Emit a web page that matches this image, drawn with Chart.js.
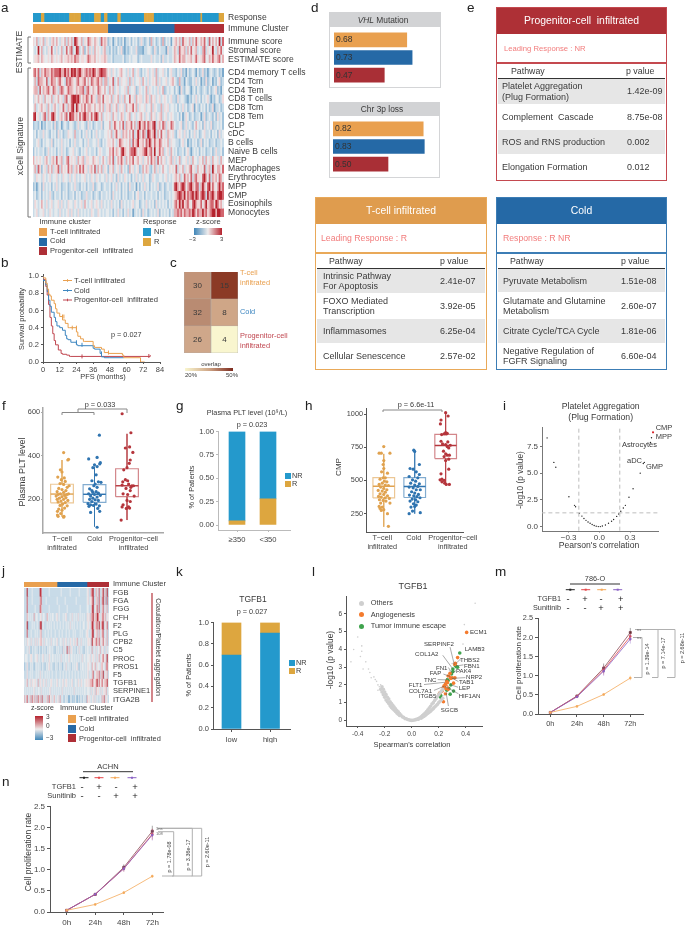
<!DOCTYPE html>
<html><head><meta charset="utf-8">
<script src="https://cdn.jsdelivr.net/npm/chart.js@4"></script>
<style>
html,body{margin:0;padding:0;background:#fff;overflow:hidden}
#p{position:absolute;left:0;top:0;width:685px;height:928px;overflow:hidden;font-family:"Liberation Sans",Arial,sans-serif}
canvas{position:absolute}
.t{position:absolute;white-space:pre;line-height:1.15;color:#3a3a3a;z-index:5}
.r{position:absolute;z-index:1}
svg{position:absolute;left:0;top:0;z-index:4}
</style></head><body><div id="p"><svg id="s" width="685" height="928"></svg></div>
<script>
/* ---------- DATA ---------- */
const cT='#E9A04F',cC='#2569A6',cP='#AE2F36',cNR='#2499CC',cR='#DDA63F';
const heatRamp=['#4f8fbe','#7aa9cc','#a3c4dc','#c8dbe8','#e6eaed','#f0d9da','#e6aeb2','#d2656e','#b5222d'];
const rowsResponse=["NNNNN RRNNN NNNNN NNNNN NNRRR RRRRN NNNNN NNRRR RNNRR NNNNN NRRNN NNNNN NNNNN NNRRR RRRNN NNNNN NNNNN NNNNN NNNNN NNNNN NRNNN NNNNN NNRRR"];
const estimateLabels=["Immune score","Stromal score","ESTIMATE score"];
const rowsEstimate=[
"54635 46354 35646 43546 36463 87546 35476 54654 37565 23413 42324 13342 43423 53234 26342 34262 43414 56463 75546 36475 46574 37464 64837",
"43484 63435 47435 34634 74673 48734 62463 53645 43563 32423 24352 13234 33522 21334 43253 24333 15334 65375 56364 74563 43673 54584 36574",
"45564 65445 46545 45645 56565 76645 54576 55645 45565 33423 33334 23343 44423 43333 35343 34253 34334 65475 66455 64575 45674 46575 56746"];
const xcellLabels=["CD4 memory T cells","CD4 Tcm","CD4 Tem","CD8 T cells","CD8 Tcm","CD8 Tem","CLP","cDC","B cells","Naive B cells","MEP","Macrophages","Erythrocytes","MPP","CMP","Eosinophils","Monocytes"];
const rowsXcell=[
"67573 65766 57677 78668 67587 86786 56767 68756 78776 45354 34564 43534 63453 24345 34536 34453 42453 32435 23142 34314 23523 13432 34231",
"46376 65473 57664 67543 76765 46755 67464 76567 56366 35473 46354 45363 53445 36435 34546 35344 53456 43263 31432 24353 41325 23413 24523",
"56637 46567 54765 36764 57665 46566 73675 46547 65464 36463 45344 53634 45235 43463 54343 53462 34344 24315 32443 13424 32343 24234 52314",
"35464 53645 46354 64536 74578 87864 65764 75536 64745 54635 46353 64474 53645 53465 36453 45345 43453 32534 43213 24353 42434 53132 44235",
"46345 64536 43564 35475 36578 48646 57466 54645 64635 56354 63545 36455 74635 44534 46354 33635 45344 34243 53423 45143 24342 42351 33423",
"78453 46736 47864 35646 74877 56475 78664 75786 46345 45364 53465 34563 45345 64354 36453 45634 53454 33424 13542 34233 41352 34324 25342",
"23324 13243 34252 34134 32443 23534 43253 42343 35244 46357 54647 36557 46368 56747 65783 56476 35476 43345 23534 32464 34253 43523 34342",
"34243 35343 24342 53423 35443 63342 43534 24353 43344 54635 74536 56464 73586 47638 75683 64745 36545 32454 35342 43534 23453 34243 42534",
"33453 24344 35243 43534 34243 53344 24353 34435 32434 55464 35765 45463 75685 56476 86475 57645 46354 43324 53413 24342 35243 42334 23343",
"24343 34235 34342 43534 23445 34324 34534 33424 54334 46574 65478 65467 78645 56785 67484 57563 45364 34233 42453 13434 24342 33423 53342",
"64545 43564 35647 45634 67454 53645 63554 46545 34643 56473 46575 36465 74564 53546 47563 74645 34563 53463 44535 36443 54636 45364 45364",
"46375 24536 46355 73645 47563 56475 74535 64736 46354 25463 45364 34264 53452 36465 32463 53464 43545 47354 63546 74536 45473 56385 46647",
"43544 35434 53445 34354 43534 53434 45343 54354 34435 34534 25343 54342 43534 35344 23543 34434 53434 56463 47564 73675 54786 47365 64764",
"23134 25343 42435 34233 42343 53324 34243 35234 42343 34243 53424 34253 34142 43534 24343 52342 34334 78657 87467 86577 36864 78575 46867",
"34234 24343 53243 34243 42334 24342 33533 42343 24334 34253 43424 34233 42453 34243 34334 24342 33434 56787 68576 78687 57873 86786 57887",
"35434 64353 45344 53534 35443 54345 36434 53454 35343 43534 34253 43434 53442 34353 43425 34343 42434 67586 85675 47865 57468 56775 87564",
"34534 45343 54344 35343 45353 43534 34343 54335 43434 43424 35342 43534 13434 25342 34343 52434 34243 66767 57667 68757 66867 56788 68877"];
const clusterCountsA=[45,40,30], clusterCountsJ=[33,30,22];
const geneLabels=["FGB","FGA","FGG","CFH","F2","PLG","CPB2","C5","PROC","PROS1","F5","TGFB1","SERPINE1","ITGA2B"];
const rowsGenes=[
"33383 33343 33333 38733 33333 43333 33333 33433 33333 34333 33333 43333 33345 33678 33653 73358 36383",
"33373 33343 33333 36733 33433 33333 33343 33333 34333 33333 33433 33333 33345 34568 33563 73368 36273",
"33373 33333 34333 37633 33333 43333 33333 43333 33343 33333 33333 34333 33344 33478 34573 73357 35363",
"33364 34343 63443 34534 43364 34344 33453 43334 34533 34353 43435 34343 43354 53668 46487 53467 46354",
"33482 33343 43343 37834 33343 43433 43343 34334 33434 35343 43343 34334 43345 43587 35674 83578 35473",
"33373 33433 34343 35633 34334 33433 34333 43343 33433 43334 34333 34343 33454 33478 34563 63467 34363",
"34354 43534 35353 45643 53443 43534 43453 34435 34534 35434 53463 43534 34345 45385 54764 73547 45363",
"43343 53243 34342 43243 34243 44343 32434 33425 34373 63543 34243 53433 24344 34363 43534 46345 33534",
"34443 34543 34453 43345 34343 54344 34343 43534 34434 53443 43434 34353 44344 45345 43534 63457 45384",
"23353 24343 23434 34243 32434 53433 24342 43423 43534 34243 43453 24344 34345 44364 46354 43564 43674",
"33353 34343 33434 35343 34343 43343 33433 34334 33433 43343 34334 33434 34345 34357 34564 73648 35463",
"43463 45354 45436 35435 43534 34543 43453 44345 34543 43453 34435 43543 44545 46576 45684 74574 56584",
"34343 43434 53434 43534 34343 45343 43434 34353 43434 34343 53434 34343 44344 43534 53645 43534 54634",
"63573 46374 63637 46373 53463 74534 64345 36343 24342 13423 24314 23424 34264 54345 35343 34364 73543"];
/* b survival */
const kmT=[[0,1],[2,.98],[3,.92],[4,.85],[5,.79],[6,.77],[8,.72],[9,.68],[10,.62],[12,.57],[14,.53],[16,.49],[18,.45],[19,.40],[24,.40],[25,.35],[27,.30],[29,.27],[30,.24],[36,.24],[37,.19],[38,.17],[42,.17],[44,.15],[47,.11],[57,.10],[58,.08],[70,.05],[72.5,0],[73,0]];
const kmC=[[0,1],[2,.95],[3,.9],[4,.82],[5,.72],[6,.65],[8,.58],[9,.52],[10,.47],[12,.42],[14,.40],[16,.37],[17,.31],[18,.27],[20,.26],[24,.23],[25,.2],[36,.19],[37,.16],[41,.15],[42,.1],[44,.06],[48,.05],[58,.05]];
const kmP=[[0,1],[2,.96],[3,.88],[4,.78],[5,.67],[6,.52],[7,.42],[8,.33],[9,.25],[11,.2],[13,.14],[14,.1],[17,.09],[19,.08],[20,.065],[77,.065],[77,.08]];
const censT=[[14,.53],[15,.53],[21,.40],[24,.40],[47,.11]], censC=[[24,.23],[28,.2],[42,.1]], censP=[[28,.065],[76,.07]];
const kmXTicks=[0,12,24,36,48,60,72,84], kmYTicks=[0,.2,.4,.6,.8,1];
/* c */
const overlapCols=["NR","R"], overlapCounts=[[30,15],[32,8],[26,4]];
const overlapColors=[['#c29479','#8b3a26'],['#b98b72','#cfa687'],['#cfa78a','#f9f6cf']];
/* d */
const vhlValues=[.68,.73,.47], chr3pValues=[.82,.83,.50];
/* f */
const catLabels=[["T\u2212cell","infiltrated"],["Cold"],["Progenitor\u2212cell","infiltrated"]];
const fT=[[1.05,414],[1.18,380],[1.2,383],[.95,335],[1,325],[.87,302],[1.07,298],[.98,290],[1.1,282],[.94,272],[1.05,268],[1.22,262],[1.16,255],[.9,250],[1,245],[1.12,240],[.85,235],[1.05,232],[1.2,225],[.95,225],[.88,222],[1.08,218],[1.15,222],[.82,215],[1,212],[1.12,208],[.92,205],[1.05,200],[.85,200],[1.18,195],[.97,192],[.88,188],[1.1,185],[1.02,178],[.94,172],[1.16,170],[1.08,160],[.9,155],[1,150],[.86,145],[.96,135],[1.06,122],[.88,122],[.86,128],[1.05,118]];
const fC=[[2.15,494],[1.82,385],[2.08,392],[2.18,368],[2.16,362],[2.0,358],[2.08,350],[1.95,345],[2.05,312],[1.92,285],[2.12,280],[2.2,278],[2.02,270],[1.98,262],[2.08,255],[1.85,248],[1.92,240],[2.05,235],[1.95,232],[2.12,228],[1.82,225],[2.0,222],[2.18,218],[1.88,215],[2.08,210],[1.95,205],[1.85,200],[2.02,198],[2.12,195],[1.92,190],[1.8,180],[2.05,178],[1.88,175],[1.97,172],[2.15,170],[1.83,168],[2.1,158],[2.16,145],[1.88,140],[2.08,72]];
const fP=[[2.85,592],[3.12,505],[2.95,435],[3.08,440],[3.18,415],[3.1,380],[3.07,365],[3.0,345],[2.9,335],[2.95,290],[3.02,285],[2.87,280],[3.05,270],[2.85,265],[3.15,262],[3.2,262],[3.12,255],[2.97,250],[3.1,240],[2.88,225],[3.02,222],[3.22,215],[3.0,195],[3.1,190],[2.88,175],[2.85,165],[3.05,165],[3.08,160],[2.98,158],[2.82,105]];
const fBox=[[120,184,224,269,380],[75,186,223,267,349],[105,212,262,340,500]];
/* g */
const gCats=["\u2265350","<350"], gNR=[.955,.72], gR=[.045,.28];
/* h */
const hT=[[1.0,755],[.85,705],[.92,705],[1.2,705],[1.0,650],[.98,620],[1.0,590],[.93,565],[1.12,555],[1.05,520],[.98,520],[.88,510],[1.02,495],[1.1,490],[.95,480],[.85,470],[1.05,465],[1.15,462],[.9,450],[1.0,440],[1.1,430],[.82,425],[.95,420],[1.05,412],[.88,400],[1.0,395],[1.12,385],[.83,380],[.92,375],[1.05,370],[1.18,365],[.86,355],[.98,350],[1.07,345],[.9,330],[1.2,330],[.85,305],[.95,300],[.88,290],[1.0,280],[.92,275],[1.12,250],[1.15,155]];
const hC=[[1.97,728],[2.0,718],[2.15,620],[1.85,590],[1.95,585],[2.05,565],[2.15,545],[1.82,530],[2.1,520],[1.93,505],[2.03,495],[1.87,480],[2.15,475],[2.0,465],[2.1,455],[1.82,450],[1.95,445],[2.05,430],[2.18,430],[1.9,415],[2.0,405],[2.12,395],[1.83,390],[1.97,385],[2.07,378],[2.17,370],[1.92,360],[2.03,355],[1.85,345],[2.1,340],[1.96,325],[2.05,315],[2.0,305],[1.88,300],[1.93,270],[1.82,250],[2.18,258]];
const hP=[[3.0,1010],[3.08,985],[2.85,955],[2.83,925],[3.0,860],[3.05,855],[3.02,850],[2.87,845],[2.95,850],[2.85,795],[3.07,790],[2.9,775],[3.0,770],[3.15,765],[3.05,755],[3.1,745],[2.93,720],[3.0,700],[3.05,690],[3.12,690],[2.95,680],[3.1,660],[3.0,650],[3.1,585],[2.85,550],[2.88,510],[2.82,505],[2.95,500],[2.88,490],[2.97,480],[3.02,470],[3.12,470]];
const hBox=[[151,369,457,522,700],[250,372,455,522,730],[470,665,763,846,1010]];
/* i */
const iPoints=[[-.51,8.28],[-.444,6.0],[-.425,5.55],[-.297,2.8],[-.242,2.0],[-.232,1.87],[-.195,1.25],[-.17,1.0],[-.15,.78],[-.13,.6],[-.11,.45],[-.09,.33],[-.07,.22],[-.05,.12],[-.03,.06],[-.01,.02],[.01,.02],[.03,.07],[.06,.17],[.09,.33],[.12,.52],[.14,.68],[.17,.97],[.19,1.2],[.21,1.45],[.235,1.75],[.255,2.0],[.29,2.75],[.33,3.55],[.4,5.0],[.43,5.9],[.44,6.0],[.5,7.85],[.51,8.3]];
const iRed=[[.525,8.8]];
/* k */
const kCats=["low","high"], kNR=[.695,.90], kR=[.305,.10];
/* l */
const lGray=[[-.01,.01],[-.02,.03],[-.03,.05],[-.04,.09],[-.05,.1],[-.06,.18],[-.07,.2],[-.08,.3],[-.09,.28],[-.09,.38],[-.1,.35],[-.1,.48],[-.11,.42],[-.11,.55],[-.12,.5],[-.12,.65],[-.13,.58],[-.13,.75],[-.14,.65],[-.14,.85],[-.15,.72],[-.15,.95],[-.16,.82],[-.16,1.05],[-.17,.95],[-.17,1.2],[-.18,1.05],[-.18,1.3],[-.19,1.15],[-.19,1.45],[-.2,1.3],[-.2,1.6],[-.21,1.45],[-.21,1.75],[-.22,1.6],[-.22,1.9],[-.23,1.75],
[.0,.0],[.01,.01],[.02,.02],[.03,.04],[.04,.07],[.05,.1],[.05,.06],[.06,.15],[.07,.12],[.07,.2],[.08,.18],[.08,.27],[.09,.22],[.09,.34],[.1,.28],[.1,.42],[.11,.34],[.11,.5],[.12,.4],[.12,.6],[.13,.46],[.13,.7],[.14,.52],[.14,.8],[.15,.6],[.15,.92],[.16,.66],[.16,1.0],[.17,.75],[.17,1.12],[.18,.82],[.18,1.22],[.19,.9],[.19,1.35],[.2,1.0],[.2,1.45],[.21,1.08],[.21,1.55],[.22,1.15],[.22,1.65],[.23,1.25],[.23,1.75]];
const lSparse=[[-.23,2.0],[-.24,1.9],[-.25,2.0],[-.25,1.7],[-.26,2.2],[-.27,2.3],[-.28,2.45],[-.3,2.4],[-.31,2.7],[-.34,3.3],[-.36,2.9],[-.38,3.6],[-.37,4.2],[-.43,4.0],[-.45,3.3],[-.4,4.7],[-.37,3.9],[-.32,2.9],[.24,1.4],[.25,1.6],[.26,1.9],[.27,2.4],[.3,3.2],[.28,2.8],[.36,3.4],[.38,4.3],[.39,5.4],[.47,6.6]];
const lOrange=[[.407,4.96],[.34,3.54],[.323,3.22],[.32,3.15],[.284,2.65],[.27,2.5],[.278,2.45],[.3,2.4],[.32,2.4],[.29,2.37],[.31,2.1],[.26,2.2],[.265,2.12],[.25,2.05],[.24,1.95],[.235,1.85],[.25,1.8],[.26,1.9],[.225,1.65],[.21,1.55],[.205,1.5],[.25,1.5],[.235,1.05],[.27,1.75]];
const lGreen=[[.356,3.8],[.323,3.1],[.34,3.0],[.33,3.02],[.305,2.9],[.305,2.75],[.295,2.62],[.265,2.3],[.26,2.2],[.27,2.25],[.29,2.0],[.24,1.8],[.26,1.7],[.31,1.65],[.285,1.48],[.215,1.4],[.215,1.3],[.275,1.8]];
const lLeaders=[[.284,4.13,.316,3.13],[.230,3.67,.301,2.94],[.358,3.43,.326,3.20],[.383,3.13,.328,3.06],[.272,2.98,.296,2.70],[.328,2.80,.304,2.67],[.235,2.61,.284,2.48],[.397,2.41,.304,2.37],[.193,2.30,.264,2.28],[.346,2.19,.296,2.39],[.091,2.02,.247,2.15],[.343,1.87,.284,2.02],[.165,1.69,.242,1.93],[.346,1.50,.247,1.91],[.198,1.35,.235,1.83],[.272,.81,.254,1.59]];
/* m n */
const timeLabels=["0h","24h","48h","72h"];
const mBlack=[.04,.47,1.2,2.13], mRed=[.04,.46,1.15,2.03], mOrange=[.04,.2,.51,.94], mPurple=[.04,.45,1.12,1.96];
const mErr=[.01,.03,.12,.12], mErrO=[.01,.01,.02,.06];
const nBlack=[.04,.42,1.06,1.92], nRed=[.04,.42,1.03,1.85], nOrange=[.04,.18,.46,.85], nPurple=[.04,.42,1.03,1.83];
const nErr=[.01,.03,.07,.13], nErrO=[.01,.01,.01,.04];
const tableE=[["Platelet Aggregation\n(Plug Formation)","1.42e-09"],["Complement  Cascade","8.75e-08"],["ROS and RNS production","0.002"],["Elongation Formation","0.012"]];
const tableT=[["Intrinsic Pathway\nFor Apoptosis","2.41e-07"],["FOXO Mediated\nTranscription","3.92e-05"],["Inflammasomes","6.25e-04"],["Cellular Senescence","2.57e-02"]];
const tableC=[["Pyruvate Metabolism","1.51e-08"],["Glutamate and Glutamine\nMetabolism","2.60e-07"],["Citrate Cycle/TCA Cycle","1.81e-06"],["Negative Regulation of\nFGFR Signaling","6.60e-04"]];

/* ---------- HELPERS ---------- */
Chart.defaults.font.family='"Liberation Sans",Arial,sans-serif';
Chart.defaults.animation=false;
const P=document.getElementById('p'),S=document.getElementById('s');
function T(x,y,txt,o={}){const d=document.createElement('div');d.className='t';d.textContent=txt;
 d.style.left=x+'px';d.style.top=y+'px';d.style.fontSize=(o.s||8)+'px';if(o.c)d.style.color=o.c;if(o.i)d.style.fontStyle='italic';
 if(o.lh)d.style.lineHeight=o.lh;
 const a=o.a||'l';d.style.textAlign=a=='c'?'center':a=='r'?'right':'left';
 const tx=a=='c'?'-50%':a=='r'?'-100%':'0';
 d.style.transform=`translate(${tx},-50%)`+(o.rot?` rotate(${o.rot}deg)`:'');
 P.appendChild(d);return d;}
function L(x1,y1,x2,y2,c='#888',w=1){const e=document.createElementNS('http://www.w3.org/2000/svg','line');
 [['x1',x1],['y1',y1],['x2',x2],['y2',y2],['stroke',c],['stroke-width',w]].forEach(a=>e.setAttribute(a[0],a[1]));S.appendChild(e);}
function Rc(x0,y0,x1,y1,bg,extra=''){const d=document.createElement('div');d.className='r';
 d.style.cssText=`left:${x0}px;top:${y0}px;width:${x1-x0}px;height:${y1-y0}px;background:${bg};${extra}`;P.appendChild(d);return d;}
const lerp=(pa,va,pb,vb,p)=>va+(p-pa)*(vb-va)/(pb-pa);
function mk(rc,cfg,m={}){const ml=m.l||0,mt=m.t||0,mr=m.r||0,mb=m.b||0;
 const c=document.createElement('canvas');c.width=rc.r-rc.l+ml+mr;c.height=rc.b-rc.t+mt+mb;
 c.style.left=(rc.l-ml)+'px';c.style.top=(rc.t-mt)+'px';c.style.zIndex=m.z||2;P.appendChild(c);
 cfg.options=cfg.options||{};const o=cfg.options;o.responsive=false;o.animation=false;o.devicePixelRatio=1;
 o.layout={padding:{top:mt,right:mr,left:0,bottom:0}};
 o.plugins=Object.assign({legend:{display:false},tooltip:{enabled:false}},o.plugins||{});
 o.scales=o.scales||{};
 if(o.scales.x)o.scales.x.afterFit=s=>{s.height=mb};
 if(o.scales.y)o.scales.y.afterFit=s=>{s.width=ml};
 return new Chart(c,cfg);}
function ax(o){return{type:'linear',min:o.min,max:o.max,position:o.pos,offset:false,
 afterBuildTicks:s=>{s.ticks=o.ticks.map(v=>({value:v}))},
 ticks:{autoSkip:false,maxRotation:0,minRotation:0,color:o.tc||'#444',font:{size:o.fs||8},padding:o.pad==null?2:o.pad,callback:o.fmt||(v=>v)},
 grid:{offset:false,drawOnChartArea:false,drawTicks:o.tick!==false,tickLength:o.tl||2,color:o.ac||'#666'},
 border:{color:o.ac||'#666',width:o.aw||1}};}
const pts=a=>a.map(p=>({x:p[0],y:p[1]}));
const parseRow=s=>s.replace(/ /g,'').split('');
function heat(rc,rows,colorOf){const parsed=rows.map(parseRow);const n=parsed[0].length;
 return mk(rc,{type:'bar',data:{labels:Array.from({length:n},(_,i)=>i),datasets:parsed.map((row,i)=>({data:row.map(()=>[i,i+1]),backgroundColor:row.map(colorOf),borderWidth:0,grouped:false,barPercentage:1,categoryPercentage:1}))},
 options:{scales:{x:{type:'category',display:false,offset:true},y:{type:'linear',display:false,min:0,max:parsed.length,reverse:true}}}});}
function stackBar(rc,vals,colors){return mk(rc,{type:'bar',data:{labels:['c'],datasets:vals.map((v,i)=>({data:[v],backgroundColor:colors[i],borderWidth:0,barPercentage:1,categoryPercentage:1}))},
 options:{indexAxis:'y',scales:{x:{type:'linear',display:false,stacked:true,min:0,max:vals.reduce((a,b)=>a+b,0)},y:{type:'category',display:false,stacked:true}}}});}
const heatColor=v=>heatRamp[+v];

/* letters */
[['a',1,8],['b',1,263],['c',170,263],['d',311,8],['e',467,8],['f',2,406],['g',176,406],['h',305,406],['i',503,406],['j',2,571],['k',176,572],['l',312,572],['m',495,572],['n',2,782]].forEach(a=>T(a[1],a[2],a[0],{s:13.5,c:'#222'}));

/* ---------- A ---------- */
heat({l:33,t:13,r:224,b:22},rowsResponse,v=>v=='R'?cR:cNR);
stackBar({l:33,t:24,r:224,b:33},clusterCountsA,[cT,cC,cP]);
heat({l:33,t:37,r:224,b:63},rowsEstimate,heatColor);
heat({l:33,t:68,r:224,b:217},rowsXcell,heatColor);
T(228,18,'Response',{s:8.6});T(228,29,'Immune Cluster',{s:8.6});
estimateLabels.forEach((s,i)=>T(228,42+i*9,s,{s:8.6}));
xcellLabels.forEach((s,i)=>T(228,73+i*8.75,s,{s:8.6}));
T(20,52,'ESTIMATE',{a:'c',rot:-90,s:8.6});T(21,146,'xCell Signature',{a:'c',rot:-90,s:8.6});
[[37,63],[68,217]].forEach(b=>{L(28,b[0],28,b[1],'#777');L(28,b[0],31,b[0],'#777');L(28,b[1],31,b[1],'#777')});
T(39.5,222,'Immune cluster',{s:7.5});T(143,222,'Response',{s:7.5});T(196,222,'z-score',{s:7.5});
[[228,cT,'T-cell infiltrated',231.5],[238,cC,'Cold',241],[247,cP,'Progenitor-cell  infiltrated',251]].forEach(a=>{Rc(39,a[0],47,a[0]+7.5,a[1]);T(50,a[3],a[2],{s:7.5})});
Rc(143,228,151,235.5,cNR);T(154,231.5,'NR',{s:7.5});Rc(143,238,151,245.5,cR);T(154,242,'R',{s:7.5});
Rc(194,228,222,235,'linear-gradient(90deg,#3f86b8,#efecec 50%,#b5222d)');T(189,239,'\u22123',{s:6});T(220,239,'3',{s:6});

/* ---------- B ---------- */
const kmR={l:43,t:274,r:160,b:362};
const kmY0=lerp(362,0,275.7,1,362),kmY1=lerp(362,0,275.7,1,274);
const line=(a,c,w=1)=>({type:'scatter',data:pts(a),showLine:true,stepped:'after',borderColor:c,borderWidth:w,pointRadius:0});
const cens=(a,c)=>({type:'scatter',data:pts(a),pointStyle:'line',rotation:90,pointRadius:2,borderColor:c,pointBorderColor:c,pointBorderWidth:1,showLine:false});
mk(kmR,{type:'scatter',data:{datasets:[line(kmT,cT),line(kmC,'#3d86c0'),line(kmP,'#c04750'),cens(censT,cT),cens(censC,'#3d86c0'),cens(censP,'#c04750')]},
 options:{scales:{x:ax({min:0,max:84,ticks:kmXTicks,fs:7.5,ac:'#555',pad:1}),y:ax({min:kmY0,max:kmY1,ticks:kmYTicks,fs:7.5,ac:'#555',fmt:v=>v.toFixed(1)})}}},{l:24,t:6,r:10,b:12});
T(22,319,'Survival probability',{a:'c',rot:-90,s:7.4});T(103,376.5,'PFS (months)',{a:'c',s:7.4});
[[280.5,cT,'T-cell infiltrated'],[290.5,'#3d86c0','Cold'],[300,'#c04750','Progenitor-cell  infiltrated']].forEach(a=>{L(63,a[0],72,a[0],a[1]);L(67.5,a[0]-1.3,67.5,a[0]+1.3,a[1]);T(74,a[0],a[2],{s:7.6})});
T(111,335,'p = 0.027',{s:7.3});

/* ---------- C ---------- */
const cellText={id:'cellText',afterDatasetsDraw(ch){const g=ch.ctx;g.save();g.fillStyle='#3a3a3a';g.font='8px "Liberation Sans"';g.textAlign='center';g.textBaseline='middle';
 overlapCounts.forEach((row,i)=>row.forEach((v,j)=>g.fillText(v,ch.scales.x.getPixelForValue(j),ch.scales.y.getPixelForValue(i+.5))));g.restore();}};
mk({l:184,t:272,r:238,b:353},{type:'bar',data:{labels:overlapCols,datasets:overlapCounts.map((row,i)=>({data:row.map(()=>[i,i+1]),backgroundColor:overlapColors[i],borderColor:'#aaa',borderWidth:.6,grouped:false,barPercentage:1,categoryPercentage:1}))},
 options:{scales:{x:{type:'category',offset:true,grid:{display:false},border:{display:false},ticks:{padding:1,color:c=>c.index==0?'#4aa3d6':'#e3a95a',font:{size:7.5}}},y:{type:'linear',min:0,max:3,reverse:true,display:false}}},plugins:[cellText]},{b:10,r:4});
T(240,277,'T-cell\ninfiltrated',{c:cT,s:7.4,lh:'9.5px'});T(240,312,'Cold',{c:'#3d86c0',s:7.4});T(240,340,'Progenitor-cell\ninfiltrated',{c:'#c04750',s:7.4,lh:'9.5px'});
T(211,364,'overlap',{a:'c',s:6});Rc(185,368,233,370.5,'linear-gradient(90deg,#f9f6cf,#cfa687 50%,#7d2a1e)');T(191,374.5,'20%',{a:'c',s:6});T(232,374.5,'50%',{a:'c',s:6});

/* ---------- D ---------- */
function vbar(rc,vals){const lbl={id:'vl',afterDatasetsDraw(ch){const g=ch.ctx;g.save();g.font='8.5px "Liberation Sans"';g.fillStyle='#333';g.textBaseline='middle';
 vals.forEach((v,i)=>g.fillText(v.toFixed(2),ch.scales.x.getPixelForValue(0)+2,ch.scales.y.getPixelForValue(i)));g.restore();}};
 return mk(rc,{type:'bar',data:{labels:['T-cell','Cold','Progenitor'],datasets:[{data:vals,backgroundColor:['#E9A04F','#2569A6','#A92F36'],borderWidth:0,barThickness:14}]},
 options:{indexAxis:'y',scales:{x:{type:'linear',display:false,min:0,max:1},y:{type:'category',display:false}}},plugins:[lbl]},{z:3});}
Rc(329,12,441,88,'#fff','box-sizing:border-box;border:1px solid #d4d5d7');Rc(329,12,441,27,'#d2d3d5');
Rc(329,102,440,178,'#fff','box-sizing:border-box;border:1px solid #d4d5d7');Rc(329,102,440,116,'#d2d3d5');
vbar({l:334,t:31,r:441,b:84},vhlValues);vbar({l:333,t:120,r:443,b:173},chr3pValues);
const hd=T(383,21,'',{a:'c',s:8.4});hd.innerHTML='<i>VHL</i> Mutation';T(382,110,'Chr 3p loss',{a:'c',s:8.4});

/* ---------- E tables ---------- */
function table(o){Rc(o.x0,o.y0,o.x1,o.y1,'#fff',`box-sizing:border-box;border:1.6px solid ${o.bc}`);
 Rc(o.x0,o.y0,o.x1,o.y0+27,o.hc);T((o.x0+o.x1)/2,o.y0+14,o.title,{a:'c',c:'#fff',s:10.4});
 T(o.lx,o.ly,o.lead,{c:'#F27C7C',s:o.ls});Rc(o.x0,o.lineY,o.x1,o.lineY+1.6,o.bc);
 T(o.pwx,o.lineY+8.5,'Pathway',{s:8.8});T(o.pvx,o.lineY+8.5,'p value',{s:8.8});
 o.ys.forEach((r,i)=>{if(i%2==0)Rc(o.x0+1.6,r[0],o.x1-1.6,r[1],'#E6E6E6');
  T(o.tx,(r[0]+r[1])/2,o.rows[i][0],{s:9,lh:'10.3px'});T(o.pvalX,(r[0]+r[1])/2,o.rows[i][1],{s:9});});
 Rc(o.x0+1.6,o.lineY+15.8,o.x1-1.6,o.lineY+17,'#333');Rc(o.x0,o.y0,o.x1,o.y1,'transparent',`box-sizing:border-box;border:1.6px solid ${o.bc};z-index:6`);}
table({x0:496,x1:667,y0:7,y1:181,hc:'#AE3036',bc:'#C4494F',title:'Progenitor-cell  infiltrated',lx:504,ly:49,lead:'Leading Response : NR',ls:7.7,lineY:62,pwx:511,pvx:626,tx:502,pvalX:627,rows:tableE,ys:[[79,103.5],[103.5,130],[130,154],[154,180]]});
table({x0:315,x1:487,y0:197,y1:370,hc:'#DF9C4E',bc:'#E9A959',title:'T-cell infiltrated',lx:321,ly:238,lead:'Leading Response : R',ls:8.7,lineY:252,pwx:329,pvx:440,tx:323,pvalX:440,rows:tableT,ys:[[269,293],[293,319],[319,343],[343,369]]});
table({x0:496,x1:667,y0:197,y1:370,hc:'#2569A6',bc:'#3C7DB5',title:'Cold',lx:503,ly:238,lead:'Response : R NR',ls:8.7,lineY:252,pwx:510,pvx:621,tx:503,pvalX:621,rows:tableC,ys:[[269,292],[292,319],[319,343],[343,369]]});

/* ---------- F / H boxplots ---------- */
function boxDs(box,k,c,ha){const [lo,q1,m,q3,hi]=box;const x=k+1;const ll=(arr,col,w)=>({type:'scatter',data:arr,showLine:true,borderColor:col,borderWidth:w,pointRadius:0});
 return [ll([{x,y:hi},{x,y:q3}],c+'b0',1),ll([{x,y:q1},{x,y:lo}],c+'b0',1),
  ll([{x:x-ha,y:q1},{x:x+ha,y:q1},{x:x+ha,y:q3},{x:x-ha,y:q3},{x:x-ha,y:q1}],c+'99',1.2),
  ll([{x:x-ha,y:m},{x:x+ha,y:m}],c,1.4)];}
function boxChart(rc,cfg){const ds=[];cfg.boxes.forEach((b,k)=>ds.push(...boxDs(b,k,cfg.cols[k],.35)));
 cfg.pts.forEach((a,k)=>ds.push({type:'scatter',data:pts(a),backgroundColor:cfg.cols[k],borderWidth:0,pointRadius:1.6}));
 mk(rc,{type:'scatter',data:{datasets:ds},options:{scales:{
  x:ax({min:cfg.xmin,max:cfg.xmax,ticks:cfg.xt,tick:false,fs:7.3,pad:2,ac:cfg.ac,aw:cfg.aw,fmt:(v,i)=>catLabels[i]}),
  y:ax({min:cfg.ymin,max:cfg.ymax,ticks:cfg.yt,fs:7.3,ac:cfg.ac,aw:cfg.aw,pad:1})}}},{l:24,t:6,r:16,b:26});}
const fCols=['#E0A24F','#2F74B0','#B5353C'];
boxChart({l:43,t:408,r:163,b:533},{boxes:fBox,pts:[fT,fC,fP],cols:fCols,xmin:lerp(62,1,127,3,43),xmax:lerp(62,1,127,3,163),xt:[1,2,3.2],
 ymin:lerp(499.3,200,412,600,533),ymax:lerp(499.3,200,412,600,408),yt:[200,400,600],ac:'#a8a8a8',aw:1.5});
T(22,472,'Plasma PLT level',{a:'c',rot:-90,s:9});T(100,405,'p = 0.033',{a:'c',s:7.3});
L(78,409,127,409);L(127,409,127,413);L(78,409,78,412.5);L(62,412.5,94,412.5);L(62,412.5,62,415);L(94,412.5,94,415);
boxChart({l:366,t:408,r:465,b:532},{boxes:hBox,pts:[hT,hC,hP],cols:fCols,xmin:lerp(384,1,446.7,3,366),xmax:lerp(384,1,446.7,3,465),xt:[.95,1.97,3.23],
 ymin:lerp(513.7,250,414,1000,532),ymax:lerp(513.7,250,414,1000,408),yt:[250,500,750,1000],ac:'#555',aw:1});
T(339,467,'CMP',{a:'c',rot:-90,s:8});T(416,405,'p = 6.6e-11',{a:'c',s:7.3});L(383,410,442,410);L(383,410,383,412);L(442,410,442,412);

/* ---------- G / K stacked ---------- */
function stacked(rc,o){mk(rc,{type:'bar',data:{datasets:[
 {data:o.bottom.map((v,i)=>({x:i+1,y:v})),backgroundColor:o.cb,barThickness:o.bw,borderWidth:0},
 {data:o.top.map((v,i)=>({x:i+1,y:v})),backgroundColor:o.ct,barThickness:o.bw,borderWidth:0}]},
 options:{scales:{x:Object.assign(ax({min:o.xmin,max:o.xmax,ticks:[1,2],fs:o.fs,pad:3,ac:o.ac,tl:o.tl||2,fmt:(v,i)=>o.cats[i]}),{stacked:true}),
  y:Object.assign(ax({min:o.ymin,max:o.ymax,ticks:o.yt,fs:o.fs,ac:o.ac,pad:2,fmt:v=>v.toFixed(o.dp)}),{stacked:true})}}},{l:26,t:6,r:10,b:14});}
stacked({l:218,t:431,r:290,b:530},{bottom:gR,top:gNR,cb:cR,ct:cNR,cats:gCats,bw:16,xmin:lerp(237,1,268,2,218),xmax:lerp(237,1,268,2,290),ymin:lerp(525,0,431,1,530),ymax:1,yt:[0,.25,.5,.75,1],dp:2,fs:7.6,ac:'#bbb'});
T(247,413,'Plasma PLT level (10\u2079/L)',{a:'c',s:7.3});T(252,425,'p = 0.023',{a:'c',s:7.3});T(192,487,'% of Patients',{a:'c',rot:-90,s:7.3});
Rc(285,473,291,479,cNR);T(292,475.5,'NR',{s:7.3});Rc(285,481,291,487,cR);T(292,484,'R',{s:7.3});
stacked({l:213,t:622,r:290,b:729},{bottom:kNR,top:kR,cb:cNR,ct:cR,cats:kCats,bw:19,xmin:lerp(231.5,1,270,2,213),xmax:lerp(231.5,1,270,2,290),ymin:0,ymax:1,yt:[0,.2,.4,.6,.8,1],dp:1,fs:7.5,ac:'#555',tl:3});
T(253,600,'TGFB1',{a:'c',s:8.5});T(252,612,'p = 0.027',{a:'c',s:7.3});T(189,675,'% of Patients',{a:'c',rot:-90,s:7.3});
Rc(289,660,295,666,cNR);T(296,663,'NR',{s:7.3});Rc(289,668,295,674,cR);T(296,671,'R',{s:7.3});

/* ---------- I ---------- */
const dash=(arr)=>({type:'scatter',data:arr,showLine:true,borderColor:'#bdbdbd',borderWidth:1,borderDash:[4,3],pointRadius:0});
const iXa=-.566,iXb=.575;
mk({l:542,t:425,r:658,b:531},{type:'scatter',data:{datasets:[
 dash([{x:-.2,y:-.36},{x:-.2,y:9.2}]),dash([{x:.2,y:-.36},{x:.2,y:9.2}]),dash([{x:iXa,y:1.3},{x:iXb,y:1.3}]),
 {type:'scatter',data:pts(iPoints),backgroundColor:'#222',borderWidth:0,pointRadius:.7},
 {type:'scatter',data:pts(iRed),backgroundColor:'#d8232a',borderWidth:0,pointRadius:1.1}]},
 options:{scales:{x:ax({min:lerp(568.6,-.3,630,.3,542),max:lerp(568.6,-.3,630,.3,658),ticks:[-.3,0,.3],fs:8,ac:'#777',pad:0,tl:1.5,fmt:v=>v==-.3?'\u22120.3':v.toFixed(1)}),
  y:ax({min:lerp(526.7,0,444,7.5,531),max:lerp(526.7,0,444,7.5,425),ticks:[0,2.5,5,7.5],fs:8,ac:'#777',fmt:v=>v.toFixed(1)})}}},{l:20,t:4,r:12,b:12});
T(600.7,406,'Platelet Aggregation',{a:'c',s:8.7});T(600.7,416.5,'(Plug Formation)',{a:'c',s:8.7});
T(521,480,'-log10 (p value)',{a:'c',rot:-90,s:8.3});T(599,546,"Pearson's correlation",{a:'c',s:8.6});
[[655.7,428,'CMP'],[655.7,436.5,'MPP'],[622,445,'Astrocytes'],[627,461,'aDC'],[646,467,'GMP']].forEach(a=>T(a[0],a[1],a[2],{s:7.5}));

/* ---------- J ---------- */
stackBar({l:24,t:582,r:109,b:587},clusterCountsJ,[cT,cC,cP]);
heat({l:24,t:588,r:109,b:703},rowsGenes,heatColor);
T(113,584,'Immune Cluster',{s:7.5});
geneLabels.forEach((s,i)=>T(113,593+i*8.2,s,{s:7.5}));
L(152,593,152,702,'#B5353C',1.2);
T(158,647,'Coaulation/Platelet aggregation',{a:'c',rot:90,s:7});
T(31,708,'z-score',{s:7});T(60,708,'Immune Cluster',{s:7.5});
Rc(35,716,43,740,'linear-gradient(180deg,#b5222d,#efecec 55%,#3f86b8)');T(46,717,'3',{s:6.5});T(46,726,'0',{s:6.5});T(46,738,'\u22123',{s:6.5});
[[715,cT,'T-cell infiltrated',719],[724.5,cC,'Cold',728.5],[734,cP,'Progenitor-cell  infiltrated',739]].forEach(a=>{Rc(68,a[0],76,a[0]+8,a[1]);T(79,a[3],a[2],{s:7.4})});

/* ---------- L ---------- */
const lPts=[];lLeaders.forEach(a=>lPts.push({x:a[0],y:a[1]},{x:a[2],y:a[3]},{x:a[2],y:null}));
mk({l:346,t:595,r:482,b:726},{type:'scatter',data:{datasets:[
 {type:'scatter',data:pts(lGray),backgroundColor:'#cfcfcf',borderWidth:0,pointRadius:1.8},
 {type:'scatter',data:pts(lSparse),backgroundColor:'#cfcfcf',borderWidth:0,pointRadius:.8},
 {type:'scatter',data:lPts,showLine:true,spanGaps:false,borderColor:'#555',borderWidth:.5,pointRadius:0},
 {type:'scatter',data:pts(lOrange),backgroundColor:'#F47B2E',borderWidth:0,pointRadius:1.8},
 {type:'scatter',data:pts(lGreen),backgroundColor:'#3FA34D',borderWidth:0,pointRadius:1.8}]},
 options:{scales:{x:ax({min:lerp(357.7,-.4,465.7,.4,346),max:lerp(357.7,-.4,465.7,.4,482),ticks:[-.4,-.2,0,.2,.4],fs:6.5,ac:'#555',fmt:v=>v.toFixed(1)}),
  y:ax({min:lerp(720.3,0,612.3,6,726),max:lerp(720.3,0,612.3,6,595),ticks:[0,1,2,3,4,5,6],fs:6.5,ac:'#555'})}}},{l:14,t:4,r:10,b:12});
T(413,586,'TGFB1',{a:'c',s:9});T(331,660,'-log10 (p value)',{a:'c',rot:-90,s:8.4});T(412,745,"Spearman's correlation",{a:'c',s:7.5});
[[603,'#cfcfcf','Others'],[614.5,'#F47B2E','Angiogenesis'],[626,'#3FA34D','Tumor immune escape']].forEach(a=>{Rc(358.5,a[0]-2.5,363.5,a[0]+2.5,a[1],'border-radius:50%');T(370.7,a[0],a[2],{s:7.4})});
[[470,631,'ECM1'],[464.7,647.7,'LAMB3'],[424,643,'SERPINF2'],[415,653,'COL1A2'],[460,658.5,'THBS2'],[464,664.5,'FBN1'],[436,666.5,'FN1'],[456,670,'PAK4'],[429.7,672,'FAP'],[466,675.7,'NRP2'],[424,679,'TNC'],[459,681,'TAB1'],[408.7,684,'FLT1'],[458.7,686.5,'LEP'],[408.7,690,'COL7A1'],[458.7,694.7,'HIF1AN'],[418.7,695,'ITGB5'],[440.7,708.6,'SGCB']].forEach(a=>T(a[0],a[1],a[2],{s:6.1}));

/* ---------- M / N ---------- */
function prolif(rc,o){const cols=['#222222','#E4484A','#F4A95A','#8A62C4'];
 const ser=[o.Or,o.Pu,o.Re,o.Bl],cc=[cols[2],cols[3],cols[1],cols[0]],errs=[o.eo,o.e,o.e,o.e];
 const ds=[];ser.forEach((v,k)=>{const d=[];v.forEach((y,i)=>d.push({x:i,y:y-errs[k][i]},{x:i,y:y+errs[k][i]},{x:i,y:null}));
  ds.push({type:'scatter',data:d,showLine:true,spanGaps:false,borderColor:cc[k]+'80',borderWidth:.8,pointRadius:0});
  ds.push({type:'scatter',data:v.map((y,i)=>({x:i,y})),showLine:true,borderColor:k==3?'#8a4a55':cc[k],borderWidth:.8,pointStyle:'rect',pointRadius:k==3?1.5:1.1,backgroundColor:cc[k]});});
 mk(rc,{type:'scatter',data:{datasets:ds},options:{scales:{
  x:ax({min:o.xmin,max:o.xmax,ticks:[0,1,2,3],fs:o.fs,pad:3,tl:3,ac:'#555',fmt:(v,i)=>timeLabels[i]}),
  y:ax({min:0,max:2.5,ticks:[0,.5,1,1.5,2,2.5],fs:o.fs,tl:3,ac:'#555',fmt:v=>v.toFixed(1)})}}},{l:18,t:6,r:10,b:14});}
prolif({l:538,t:618,r:643,b:714},{Bl:mBlack,Re:mRed,Or:mOrange,Pu:mPurple,e:mErr,eo:mErrO,xmin:lerp(550.3,0,630.3,3,538),xmax:lerp(550.3,0,630.3,3,643),fs:7.3});
prolif({l:50,t:806,r:163,b:912},{Bl:nBlack,Re:nRed,Or:nOrange,Pu:nPurple,e:nErr,eo:nErrO,xmin:lerp(66.7,0,152.3,3,50),xmax:lerp(66.7,0,152.3,3,163),fs:8});
function prHeader(o){T(o.cx,o.ty,o.title,{a:'c',s:o.s});L(o.lx0,o.ly,o.lx1,o.ly,'#333',1);
 const col=['#222','#E4484A','#F4A95A','#8A62C4'];
 o.sx.forEach((x,i)=>{L(x-4.5,o.sy,x+4.5,o.sy,col[i],1);L(x-1,o.sy,x+1,o.sy,col[i],2);});
 T(o.rx,o.r1,'TGFB1',{a:'r',s:o.s});T(o.rx,o.r2,'Sunitinib',{a:'r',s:o.s});
 ['-','+','-','+'].forEach((c,i)=>T(o.vx[i],o.r1,c,{a:'c',s:o.s+2,c:'#222'}));
 ['-','-','+','+'].forEach((c,i)=>T(o.vx[i],o.r2,c,{a:'c',s:o.s+2,c:'#222'}));}
prHeader({cx:595,ty:579,title:'786-O',s:7.3,lx0:570,lx1:620,ly:584,sx:[570.3,585.7,601.7,617.7],sy:589.7,rx:561,r1:599,r2:608,vx:[568,585,601,620.7]});
prHeader({cx:108,ty:767,title:'ACHN',s:7.5,lx0:83,lx1:133,ly:771.7,sx:[84,99,115,132],sy:777.7,rx:76,r1:787,r2:795.7,vx:[82,99,116,135]});
T(519,663,'Cell proliferation rate',{a:'c',rot:-90,s:8});T(29,852,'Cell proliferation rate',{a:'c',rot:-90,s:8.5});
const BK='#b0b0b0';
function bracket(x,y0,y1,xt,xb){L(x,y0,x,y1,BK);L(xt,y0,x,y0,BK);L(xb,y1,x,y1,BK);}
bracket(642,637.5,677.5,633,634);bracket(658,629.5,677.5,635,652);bracket(675,629.5,677.5,635,667);
T(646.7,658.7,'p = 1.39e-14',{a:'c',rot:-90,s:5.5});T(663.3,652.7,'p = 7.14e-17',{a:'c',rot:-90,s:5.5});T(681.5,648,'p = 2.68e-11',{a:'c',rot:-90,s:5.5});
T(637,630,'ns',{s:4,c:'#666'});T(637,637.5,'ns',{s:4,c:'#666'});
bracket(173.7,831.7,876,158,162);bracket(192.3,828.3,876,158,172);bracket(201.7,828.3,876,158,191.7);
T(169,856.7,'p = 1.78e-08',{a:'c',rot:-90,s:5.5});T(188,855,'p = 3.36e-17',{a:'c',rot:-90,s:5.5});T(207,851.7,'p = 2.60e-11',{a:'c',rot:-90,s:5.5});
T(156,829,'3ns',{s:4,c:'#666'});T(156,834,'108',{s:4,c:'#666'});
</script></body></html>
